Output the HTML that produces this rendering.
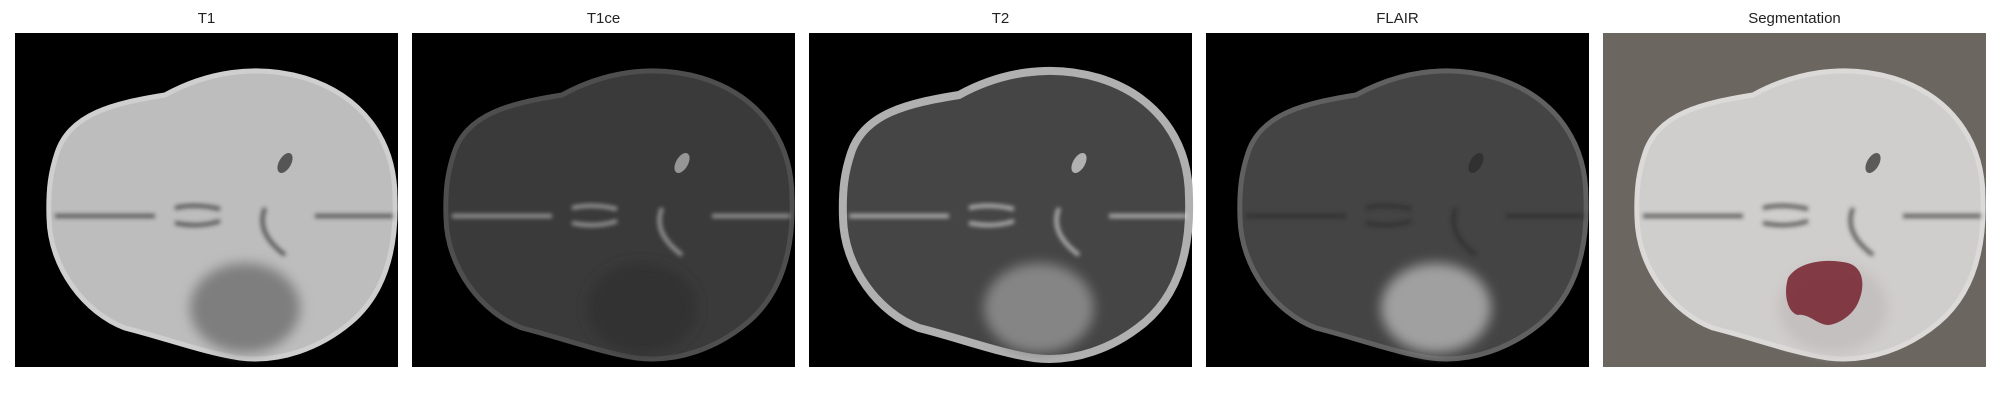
<!DOCTYPE html>
<html><head><meta charset="utf-8"><style>
body{margin:0;background:#fff;width:2000px;height:400px;overflow:hidden;font-family:"Liberation Sans","DejaVu Sans",sans-serif}
</style></head><body>
<svg width="2000" height="400" xmlns="http://www.w3.org/2000/svg">
<defs>
<filter id="bl" x="-20%" y="-20%" width="140%" height="140%"><feGaussianBlur stdDeviation="6"/></filter>
<filter id="bl2"><feGaussianBlur stdDeviation="2"/></filter>
<path id="brain" d="M42,120 C55,80 100,70 150,62 C190,40 240,30 290,45 C345,62 380,105 380,165 C382,225 365,265 335,290 C305,315 265,330 225,325 C190,320 150,305 110,295 C70,280 35,235 34,185 C33,155 36,138 42,120 Z"/>
</defs>
<g id="panels"></g>
</svg>
<script>
const titles=["T1","T1ce","T2","FLAIR","Segmentation"];
const bgs=["#000","#000","#000","#000","#6b6660"];
const fills=["#bdbdbd","#3a3a3a","#454545","#444","#d0cecc"];
const rims=["#cfcfcf","#4e4e4e","#b0b0b0","#606060","#dcdad8"];
const lesion=["#7e7e7e","#333","#858585","#a0a0a0","#c4c0bf"];
const ns="http://www.w3.org/2000/svg";
const g=document.getElementById('panels');
function el(t,a,p){const e=document.createElementNS(ns,t);for(const k in a)e.setAttribute(k,a[k]);(p||g).appendChild(e);return e;}
titles.forEach((t,i)=>{
  const x0=15+i*397,y0=33;
  const pg=el('g',{transform:`translate(${x0},${y0})`});
  
  
  el('rect',{x:0,y:0,width:383,height:334,fill:bgs[i]},pg);
  el('use',{href:'#brain',fill:fills[i],stroke:rims[i],'stroke-width':i==2?8:5},pg);
  el('ellipse',{cx:230,cy:275,rx:55,ry:45,fill:lesion[i],filter:'url(#bl)'},pg);
  const vc=i==2?"#e0e0e0":(i==1?"#bdbdbd":"#2a2a2a");
  el('path',{d:"M40,183 L140,183 M160,175 Q180,170 205,176 M160,190 Q185,195 205,188 M250,175 Q240,200 270,222 M300,183 L378,183",stroke:vc,'stroke-width':4,fill:'none',opacity:0.7,filter:'url(#bl2)'},pg);
  el('ellipse',{cx:270,cy:130,rx:6,ry:11,fill:vc,opacity:0.7,transform:'rotate(30 270 130)'},pg);
  if(i==4){
    const s=el('path',{d:"M185,245 C195,228 225,225 245,230 C262,235 262,255 255,270 C248,285 232,292 225,292 C215,292 205,280 195,282 C185,280 180,262 185,245 Z",fill:'#7a2b36',opacity:0.9},pg);
    
    
  }
  const tx=el('text',{x:x0+191.5,y:23,'text-anchor':'middle','font-size':'15',fill:'#222'});
  tx.textContent=t;
  
  
});
</script>
</body></html>
